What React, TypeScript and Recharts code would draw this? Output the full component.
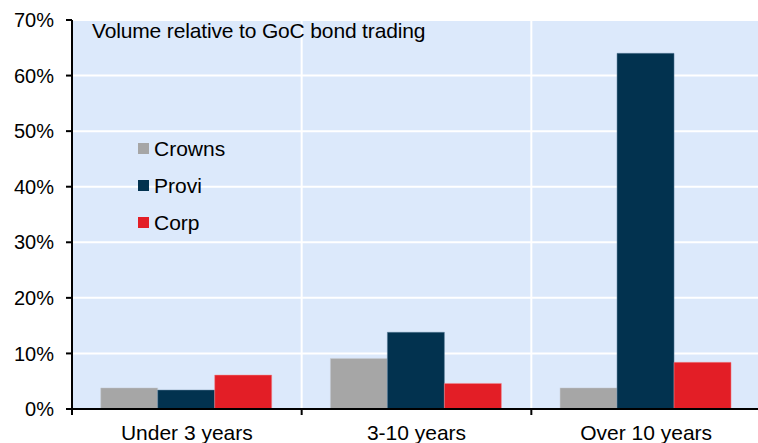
import React from "react";
import {
  BarChart,
  Bar,
  XAxis,
  YAxis,
  CartesianGrid,
} from "recharts";

// Maturity buckets and share of volume (%)
const categories = ["Under 3 years", "3-10 years", "Over 10 years"];
const crowns = [3.8, 9.1, 3.8];
const provi = [3.4, 13.8, 64.0];
const corp = [6.1, 4.6, 8.4];
const yTicks = [0, 10, 20, 30, 40, 50, 60, 70];

const series = [
  { key: "crowns", name: "Crowns", color: "#a6a6a6", edge: "#c8ccd4" },
  { key: "provi", name: "Provi", color: "#02324f", edge: "#5d7f9a" },
  { key: "corp", name: "Corp", color: "#e31e26", edge: "#f08a8e" },
];

const data = categories.map((name, i) => ({
  name,
  crowns: crowns[i],
  provi: provi[i],
  corp: corp[i],
}));

const FONT = "'Liberation Sans', Arial, sans-serif";
const W = 758;
const H = 443;

// category label + a short tick at the left edge of each band
const XTick = (props: any) => {
  const { x, y, payload, width } = props;
  const bw = (width || 689) / categories.length;
  const left = x - bw / 2;
  return (
    <g>
      <line x1={left} y1={y - 9} x2={left} y2={y - 2} stroke="#000" strokeWidth={2} />
      <text
        x={x}
        y={y + 23}
        textAnchor="middle"
        fontSize={21}
        fontFamily={FONT}
        fill="#000"
      >
        {payload.value}
      </text>
    </g>
  );
};

export default function App() {
  return (
    <div
      style={{
        position: "absolute",
        left: 0,
        top: 0,
        width: W,
        height: H,
        background: "#fff",
        overflow: "hidden",
      }}
    >
      <BarChart
        width={W}
        height={H}
        data={data}
        margin={{ top: 20, right: -3, left: 0, bottom: 0 }}
        barCategoryGap="12.5%"
        barGap={0}
      >
        <CartesianGrid
          fill="#dce9fb"
          stroke="#ffffff"
          strokeWidth={2}
          verticalCoordinatesGenerator={({ offset }: any) => [
            offset.left + offset.width / 3,
            offset.left + (2 * offset.width) / 3,
          ]}
        />
        <XAxis
          dataKey="name"
          height={34}
          tickLine={false}
          axisLine={{ stroke: "#000", strokeWidth: 2 }}
          tick={<XTick />}
          interval={0}
        />
        <YAxis
          width={72}
          domain={[0, 70]}
          ticks={yTicks}
          tickFormatter={(v: number) => `${v}%`}
          tick={{ fontSize: 20, fontFamily: FONT, fill: "#000" }}
          tickSize={6}
          tickMargin={12}
          tickLine={{ stroke: "#000", strokeWidth: 2 }}
          axisLine={{ stroke: "#000", strokeWidth: 2 }}
        />
        {series.map((s) => (
          <Bar
            key={s.key}
            dataKey={s.key}
            name={s.name}
            fill={s.color}
            stroke={s.edge}
            strokeWidth={0.5}
            isAnimationActive={false}
          />
        ))}
      </BarChart>
      {/* legend */}
      <div
        style={{
          position: "absolute",
          left: 138,
          top: 130,
          fontFamily: FONT,
          fontSize: 21,
          color: "#000",
        }}
      >
        {series.map((s) => (
          <div key={s.key} style={{ display: "flex", alignItems: "center", height: 37 }}>
            <span
              style={{
                width: 11,
                height: 11,
                background: s.color,
                marginRight: 5,
                display: "inline-block",
              }}
            />
            {s.name}
          </div>
        ))}
      </div>
      <div
        style={{
          position: "absolute",
          left: 92,
          top: 19,
          fontFamily: FONT,
          fontSize: 21,
          letterSpacing: -0.15,
          color: "#000",
          whiteSpace: "nowrap",
        }}
      >
        Volume relative to GoC bond trading
      </div>
    </div>
  );
}
